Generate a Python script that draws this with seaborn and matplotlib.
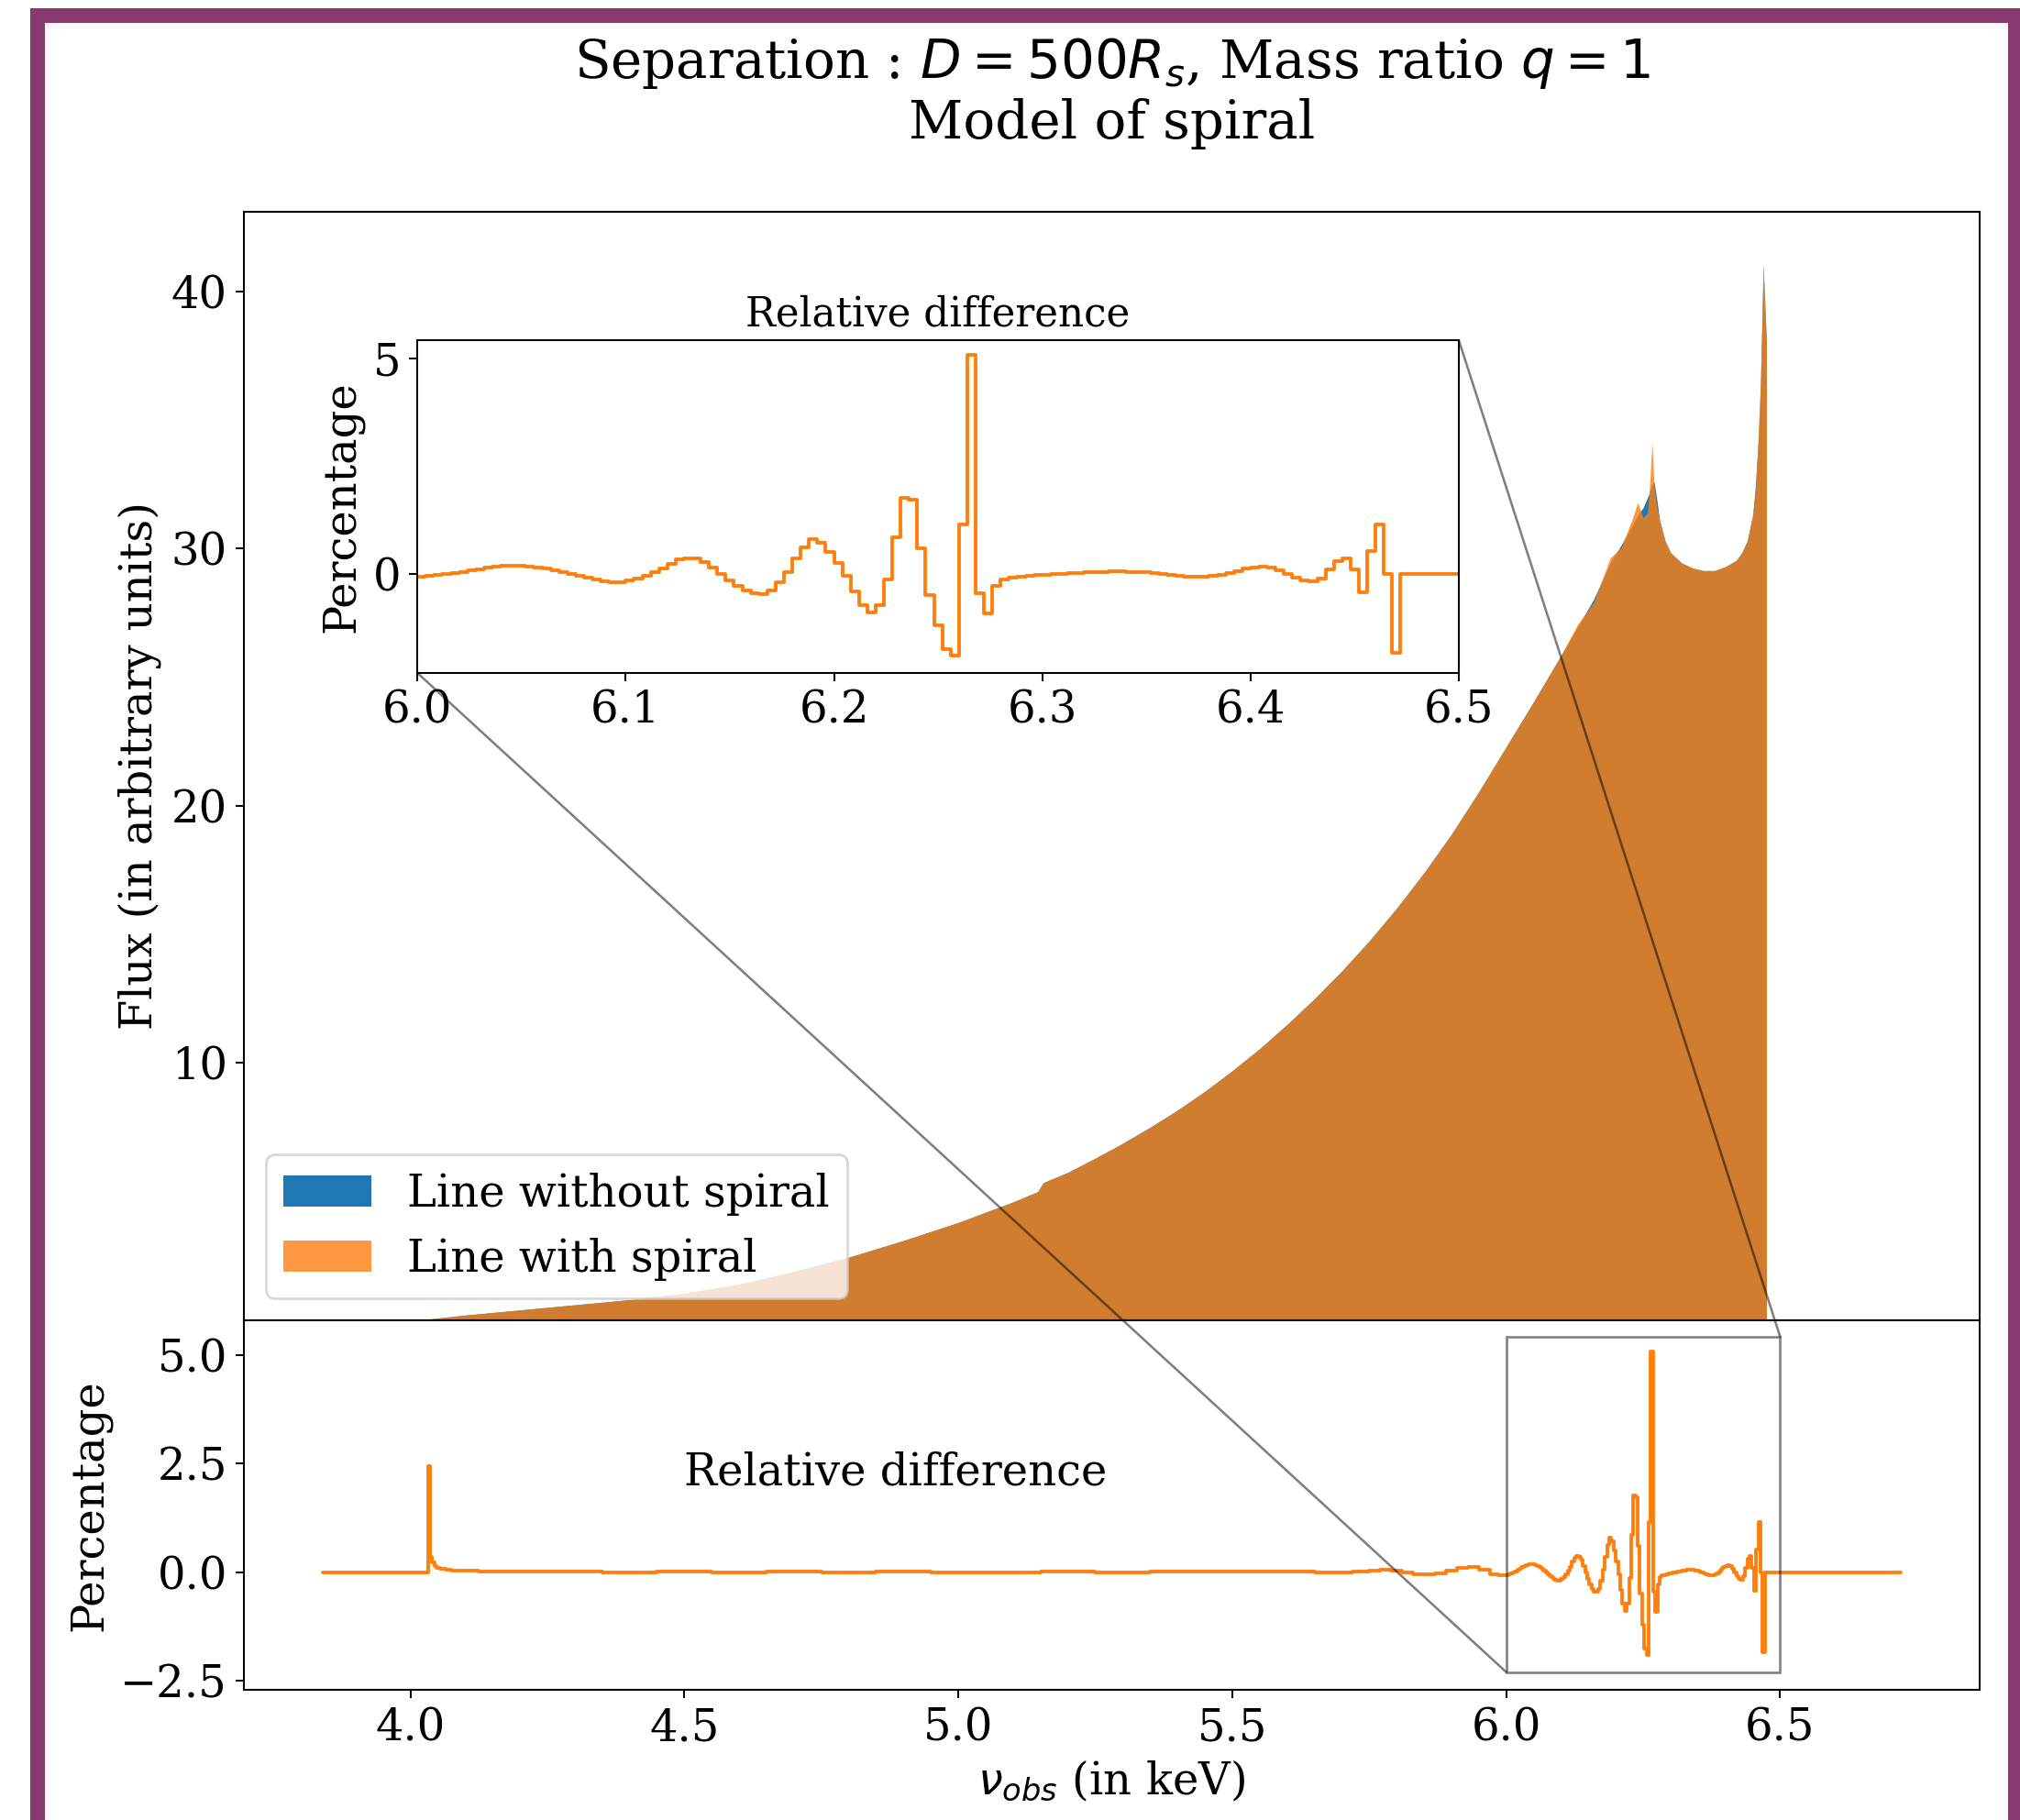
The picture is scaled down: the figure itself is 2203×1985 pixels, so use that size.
import numpy as np
import pandas as pd
import matplotlib
matplotlib.use("Agg")
import matplotlib.pyplot as plt
from matplotlib.patches import Rectangle, ConnectionPatch
import seaborn as sns

# =========================
# DATA
# =========================
# line profile, energy in keV
flux_energy = [4.036, 4.1, 4.2, 4.3, 4.4, 4.5, 4.6, 4.7, 4.8, 4.9,
               5.0, 5.05, 5.1, 5.145, 5.155, 5.2, 5.25, 5.3, 5.35, 5.4,
               5.45, 5.5, 5.55, 5.6, 5.65, 5.7, 5.75, 5.8, 5.85, 5.9,
               5.95, 6.0, 6.05, 6.1, 6.13, 6.16, 6.19, 6.21, 6.23, 6.24,
               6.25, 6.258, 6.262, 6.266, 6.27, 6.275, 6.28, 6.29, 6.30, 6.32,
               6.34, 6.36, 6.38, 6.40, 6.42, 6.43, 6.44, 6.45, 6.455, 6.46,
               6.464, 6.467, 6.469, 6.472, 6.475]
flux_without = [0.05, 0.2, 0.4, 0.6, 0.8, 1.05, 1.4, 1.9, 2.45, 3.1,
                3.8, 4.2, 4.6, 5.0, 5.35, 5.75, 6.3, 6.88, 7.5, 8.17,
                8.9, 9.7, 10.56, 11.5, 12.5, 13.58, 14.75, 16.02, 17.4, 18.9,
                20.55, 22.3, 24.05, 25.85, 26.95, 28.05, 29.45, 30.15, 30.9, 31.3,
                31.6, 32.0, 32.2, 32.5, 32.6, 31.9, 31.1, 30.3, 29.85, 29.45,
                29.25, 29.15, 29.15, 29.3, 29.55, 29.85, 30.3, 31.3, 32.5, 34.2,
                36.2, 39.0, 41.05, 39.5, 38.0]
flux_with = [0.05, 0.2, 0.4, 0.6, 0.8, 1.05, 1.4, 1.9, 2.45, 3.1,
             3.8, 4.2, 4.6, 5.0, 5.35, 5.75, 6.3, 6.88, 7.5, 8.17,
             8.9, 9.7, 10.56, 11.5, 12.5, 13.58, 14.75, 16.02, 17.4, 18.9,
             20.55, 22.3, 24.05, 25.85, 27.05, 27.93, 29.65, 30.05, 31.15, 31.8,
             31.2, 31.4, 32.55, 34.15, 32.45, 31.6, 31.1, 30.3, 29.85, 29.45,
             29.25, 29.15, 29.15, 29.3, 29.55, 29.85, 30.3, 31.35, 32.35, 34.4,
             36.6, 39.0, 41.0, 39.5, 38.0]

# relative difference (percentage), low-energy part
diff_low_energy = [3.84, 4.0, 4.03, 4.034, 4.038, 4.042, 4.046, 4.05, 4.06, 4.07,
                   4.08, 4.1, 4.15, 4.2, 4.3, 4.4, 4.5, 4.6, 4.7, 4.8,
                   4.9, 5.0, 5.1, 5.2, 5.3, 5.4, 5.5, 5.6, 5.7, 5.74,
                   5.76, 5.78, 5.80, 5.82, 5.84, 5.86, 5.88, 5.90, 5.92, 5.94,
                   5.96, 5.98, 5.99]
diff_low = [0.0, 0.0, 0.0, 2.45, 0.35, 0.22, 0.15, 0.10, 0.07, 0.05,
            0.04, 0.03, 0.02, 0.01, 0.02, 0.0, 0.01, -0.01, 0.01, 0.0,
            0.01, 0.0, -0.01, 0.01, 0.0, 0.01, 0.02, 0.01, 0.0, 0.01,
            0.03, 0.05, 0.04, 0.0, -0.04, -0.05, -0.02, 0.04, 0.10, 0.12,
            0.06, -0.04, -0.07]

# zoomed part 6.0 - 6.5 keV, bins of 0.004 keV (bin centres from 6.002)
zoom_start, zoom_step = 6.002, 0.004
diff_zoom = [-0.06, -0.05, -0.03, -0.01, 0.02, 0.05, 0.08, 0.11, 0.14, 0.17,
             0.18, 0.19, 0.19, 0.17, 0.15, 0.12, 0.08, 0.04, 0.0, -0.05,
             -0.09, -0.14, -0.18, -0.20, -0.19,
             -0.16, -0.11, -0.04, 0.04, 0.13, 0.24, 0.33, 0.37, 0.35, 0.28,
             0.14, 0.0, -0.15, -0.28, -0.38, -0.44, -0.46, -0.38, -0.20, 0.05,
             0.35, 0.62, 0.80, 0.72, 0.50,
             0.25, -0.05, -0.40, -0.72, -0.90, -0.72, -0.14, 0.85, 1.77, 1.72,
             0.60, -0.50, -1.20, -1.75, -1.90, 1.15, 5.09, -0.45, -0.92, -0.28,
             -0.12, -0.08, -0.06, -0.04, -0.03,
             -0.02, -0.01, 0.0, 0.01, 0.02, 0.03, 0.04, 0.05, 0.06, 0.06,
             0.05, 0.04, 0.03, 0.02, 0.0, -0.02, -0.04, -0.06, -0.07, -0.07,
             -0.05, -0.02, 0.02, 0.07, 0.12,
             0.15, 0.16, 0.14, 0.08, 0.0, -0.09, -0.16, -0.18, -0.10, 0.10,
             0.30, 0.37, 0.10, -0.43, 0.52, 1.15, 0.0, -1.84, 0.0, 0.0,
             0.0, 0.0, 0.0, 0.0, 0.0]

diff_high_energy = [6.6, 6.72]
diff_high = [0.0, 0.0]

zoom_energy = np.round(zoom_start + zoom_step * np.arange(len(diff_zoom)), 3)
diff_df = pd.DataFrame({
    "energy": np.concatenate([diff_low_energy, zoom_energy, diff_high_energy]),
    "pct": np.concatenate([diff_low, diff_zoom, diff_high]),
})

BLUE = "#1f77b4"
ORANGE = "#ff7f0e"
FS = 18.7

# =========================
# STYLE
# =========================
sns.set_theme(context="notebook", style="ticks")
plt.rcParams.update({
    "font.family": ["DejaVu Serif"],
    "font.size": FS,
    "axes.labelsize": FS,
    "axes.titlesize": 22.5,
    "xtick.labelsize": FS,
    "ytick.labelsize": FS,
    "legend.fontsize": FS,
    "axes.edgecolor": "black",
    "axes.labelcolor": "black",
    "text.color": "black",
    "xtick.color": "black",
    "ytick.color": "black",
    "axes.linewidth": 0.8,
    "xtick.major.size": 3.5,
    "ytick.major.size": 3.5,
    "xtick.major.width": 0.8,
    "ytick.major.width": 0.8,
    "mathtext.fontset": "dejavusans",
})

DPI = 185
fig = plt.figure(figsize=(2203 / DPI, 1985 / DPI), dpi=DPI)
ax = fig.add_axes([0.1207, 0.2746, 0.8593, 0.6090])
ax_diff = fig.add_axes([0.1207, 0.0715, 0.8593, 0.2031])

# =========================
# LINE PROFILES
# =========================
ax.fill_between(flux_energy, flux_without, color=BLUE, lw=0,
                label="Line without spiral")
ax.fill_between(flux_energy, flux_with, color=ORANGE, alpha=0.8, lw=0,
                label="Line with spiral")
ax.set_xlim(3.696, 6.864)
ax.set_ylim(0, 43.1)
ax.set_xticks([])
ax.set_yticks([10, 20, 30, 40])
ax.set_ylabel("Flux (in arbitrary units)")
ax.set_title("Separation : $D=500R_s$, Mass ratio $q=1$\nModel of spiral",
             pad=31)
ax.legend(loc="lower left")

# =========================
# RELATIVE DIFFERENCE
# =========================
sns.lineplot(data=diff_df, x="energy", y="pct", ax=ax_diff, color=ORANGE,
             lw=1.5, drawstyle="steps-mid")
ax_diff.set_xlim(3.696, 6.864)
ax_diff.set_ylim(-2.71, 5.80)
ax_diff.set_yticks([-2.5, 0.0, 2.5, 5.0])
ax_diff.set_xlabel(r"$\nu_{obs}$ (in keV)")
ax_diff.set_ylabel("Percentage")
ax_diff.text(4.5, 2.0, "Relative difference")

# inset zoom
axins = ax.inset_axes([0.1, 0.584, 0.6, 0.3])
sns.lineplot(data=diff_df, x="energy", y="pct", ax=axins, color=ORANGE,
             lw=1.5, drawstyle="steps-mid")
ins_x = (6.0, 6.5)
ins_y = (-2.3, 5.42)
axins.set_xlim(*ins_x)
axins.set_ylim(*ins_y)
axins.set_xticks([6.0, 6.1, 6.2, 6.3, 6.4, 6.5])
axins.set_yticks([0, 5])
axins.set_xlabel("")
axins.set_ylabel("Percentage")
axins.set_title("Relative difference", fontsize=17)

ax_diff.indicate_inset([ins_x[0], ins_y[0], ins_x[1] - ins_x[0], ins_y[1] - ins_y[0]],
                       edgecolor="black", alpha=0.5, lw=1.0)
for corner, target in [((0, 0), (ins_x[0], ins_y[0])), ((1, 1), (ins_x[1], ins_y[1]))]:
    con = ConnectionPatch(xyA=corner, coordsA=axins.transAxes,
                          xyB=target, coordsB=ax_diff.transData,
                          color="black", alpha=0.5, lw=1.0)
    fig.add_artist(con)

# purple frame
fig.add_artist(Rectangle((41 / 2203, -3 / 1985), 2157 / 2203, 1971.5 / 1985,
                         transform=fig.transFigure, fill=False,
                         ec="#883a6e", lw=16 * 72 / DPI, joinstyle="miter",
                         clip_on=False))

fig.savefig("out.png", dpi=DPI)
